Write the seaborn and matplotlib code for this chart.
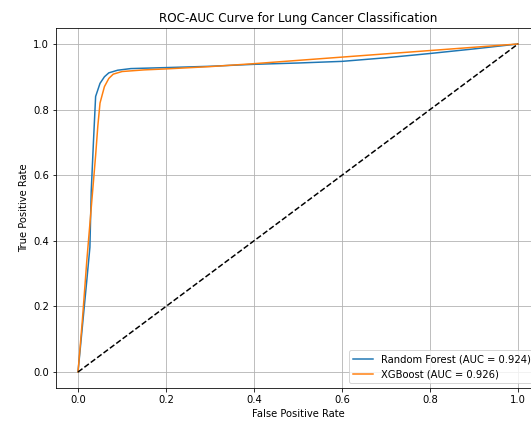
import numpy as np
import pandas as pd
import matplotlib
matplotlib.use("Agg")
import matplotlib.pyplot as plt
import seaborn as sns

# ROC points
rf_fpr = [0.0, 0.01, 0.02, 0.027, 0.03, 0.035, 0.04, 0.05, 0.06, 0.07, 0.09, 0.12,
          0.2, 0.3, 0.4, 0.5, 0.6, 0.7, 0.8, 0.9, 1.0]
rf_tpr = [0.0, 0.14, 0.28, 0.38, 0.55, 0.70, 0.84, 0.88, 0.90, 0.912, 0.92, 0.925,
          0.928, 0.932, 0.938, 0.942, 0.947, 0.958, 0.971, 0.985, 1.0]

xgb_fpr = [0.0, 0.01, 0.02, 0.03, 0.035, 0.04, 0.045, 0.05, 0.06, 0.07, 0.08, 0.1,
           0.15, 0.2, 0.3, 0.4, 0.5, 0.6, 0.7, 0.8, 0.9, 1.0]
xgb_tpr = [0.0, 0.16, 0.34, 0.50, 0.58, 0.66, 0.75, 0.82, 0.87, 0.895, 0.908, 0.916,
           0.921, 0.924, 0.931, 0.94, 0.95, 0.96, 0.97, 0.98, 0.99, 1.0]

models = ["Random Forest", "XGBoost"]
aucs = [0.924, 0.926]

df = pd.concat([
    pd.DataFrame({"fpr": rf_fpr, "tpr": rf_tpr, "model": f"{models[0]} (AUC = {aucs[0]:.3f})"}),
    pd.DataFrame({"fpr": xgb_fpr, "tpr": xgb_tpr, "model": f"{models[1]} (AUC = {aucs[1]:.3f})"}),
])

fig = plt.figure(figsize=(531 / 72, 423 / 72), dpi=72)
ax = fig.add_axes([0.1055, 0.0818, 0.9115, 0.853])

sns.lineplot(data=df, x="fpr", y="tpr", hue="model", palette=["tab:blue", "tab:orange"],
             sort=False, estimator=None, linewidth=1.5, ax=ax)
ax.plot([0, 1], [0, 1], "k--", linewidth=1.5)

ax.set_title("ROC-AUC Curve for Lung Cancer Classification", fontsize=12)
ax.set_xlabel("False Positive Rate")
ax.set_ylabel("True Positive Rate")
ax.set_xlim(-0.05, 1.05)
ax.set_ylim(-0.05, 1.05)
ax.grid(True)
ax.legend(loc="lower right", title=None)

fig.savefig("out.png", dpi=72)
